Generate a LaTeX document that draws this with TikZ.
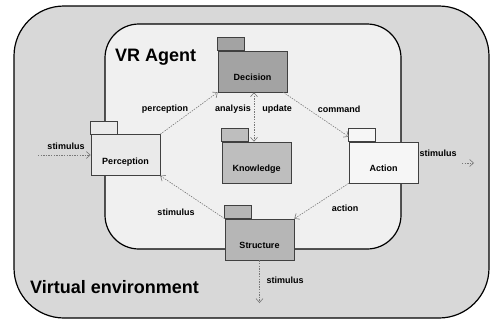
\documentclass[tikz,border=0pt]{standalone}
\usepackage{fontspec}
\setmainfont{Liberation Sans}
\usetikzlibrary{arrows.meta}

\definecolor{envgray}{RGB}{216,216,216}
\definecolor{agentgray}{RGB}{240,240,240}
\definecolor{pkgdark}{RGB}{163,163,163}
\definecolor{pkgmid}{RGB}{190,190,190}
\definecolor{pkglight}{RGB}{234,234,234}
\definecolor{pkgwhite}{RGB}{246,246,246}
\definecolor{flowgray}{RGB}{120,120,120}

\begin{document}
\begin{tikzpicture}[x=1pt, y=-1pt,
    pkg/.style={draw=black!75, line width=0.6pt, rectangle,
      minimum width=69pt, minimum height=41pt, inner sep=2pt,
      text height=18pt, text depth=0pt, font=\bfseries\fontsize{9}{10}\selectfont},
    tabbox/.style={draw=black!75, line width=0.6pt},
    flow/.style={draw=flowgray, line width=0.6pt, dash pattern=on 1.4pt off 1.2pt,
      -{Straight Barb[length=4pt,width=7pt]}},
    lbl/.style={font=\bfseries\fontsize{9}{10}\selectfont, inner sep=1pt},
    title/.style={font=\bfseries\fontsize{18}{20}\selectfont, anchor=base west, inner sep=0pt}]
  \useasboundingbox (0,0) rectangle (492,322);

  % environment and agent
  \draw[line width=1.2pt, fill=envgray, rounded corners=50pt] (14,6) rectangle (489,318);
  \draw[line width=1.2pt, fill=agentgray, rounded corners=34pt] (105,24) rectangle (401,249);
  \node[title] (agent) at (115,61) {VR Agent};
  \node[title] (env) at (30,293) {Virtual environment};

  % packages
  \node[pkg, fill=pkgdark] (dec) at (252.5,71.5) {Decision};
  \node[pkg, fill=pkgmid] (know) at (256.5,162.5) {Knowledge};
  \node[pkg, fill=pkglight] (perc) at (125.5,155) {Perception};
  \node[pkg, fill=pkgwhite] (act) at (383.5,162.5) {Action};
  \node[pkg, fill=pkgmid!96!black] (str) at (259.5,239.5) {Structure};
  \foreach \p/\c in {dec/pkgdark, know/pkgmid, perc/pkglight, act/pkgwhite, str/pkgmid!96!black}
    \draw[tabbox, fill=\c] (\p.north west) rectangle ++(27,-13);

  % free ends
  \coordinate (inP) at (38,155);
  \coordinate (outS) at (259.5,303);
  \coordinate (outA0) at (462,163);
  \coordinate (outA) at (474,163);

  % flows
  \draw[flow] (inP) -- (perc.west);
  \draw[flow] (perc.north east) -- (dec.south west);
  \draw[flow, {Straight Barb[length=4pt,width=7pt]}-{Straight Barb[length=4pt,width=7pt]}]
    ([xshift=1.5pt]dec.south) -- ([xshift=1.5pt]dec.south |- know.north);
  \draw[flow] ([xshift=-4pt]dec.south east) -- ([yshift=5pt]act.north west);
  \draw[flow] (act.south west) -- (str.north east);
  \draw[flow] (str.north west) -- (perc.south east);
  \draw[flow] (str.south) -- (outS);
  \draw[flow] (outA0) -- (outA);

  % labels
  \node[lbl] (lStimIn) at (66,146) {stimulus};
  \node[lbl] (lPerc) at (165,109) {perception};
  \node[lbl] (lAna) at (233,109) {analysis};
  \node[lbl] (lUpd) at (277,109) {update};
  \node[lbl] (lCmd) at (339,109) {command};
  \node[lbl] (lStimA) at (438,153) {stimulus};
  \node[lbl] (lAct) at (345,208) {action};
  \node[lbl] (lStimP) at (176,212) {stimulus};
  \node[lbl] (lStimS) at (285,280) {stimulus};
\end{tikzpicture}
\end{document}
